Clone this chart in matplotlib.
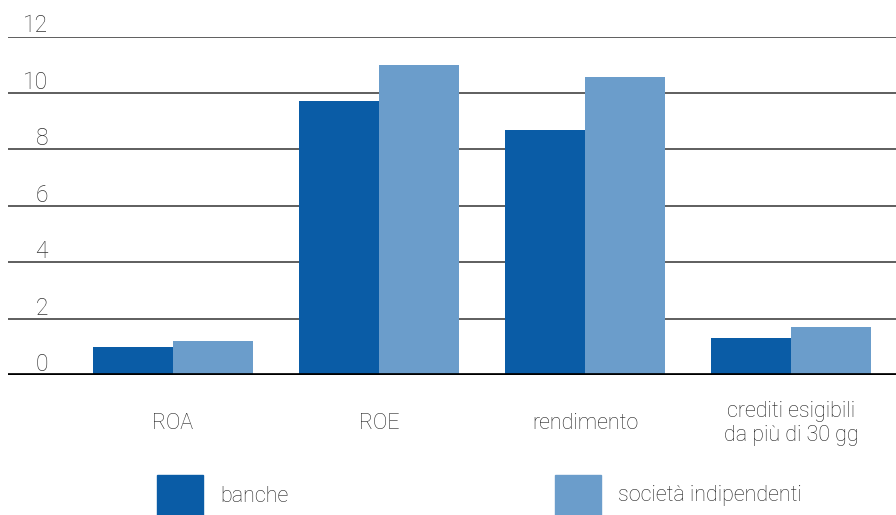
import matplotlib
matplotlib.use("Agg")
import matplotlib.pyplot as plt
import matplotlib.transforms as mtransforms
from matplotlib.patches import Rectangle
import numpy as np

categories = ["ROA", "ROE", "rendimento", "crediti esigibili\nda più di 30 gg"]
banche = [1.0, 9.7, 8.7, 1.3]
societa = [1.2, 11.0, 10.55, 1.7]
series_names = ["banche", "società indipendenti"]
yticks = [0, 2, 4, 6, 8, 10, 12]

c_banche = "#0a5ca6"
c_soc = "#6b9dcb"

plt.rcParams['font.family'] = ['Roboto', 'DejaVu Sans']
fig = plt.figure(figsize=(8.96, 5.15), dpi=100)
W, H = 896, 515
ax = fig.add_axes([8 / W, (H - 375) / H, (W - 8) / W, (375 - 36.5) / H])

x = np.arange(len(categories))
bw = 80 / 206
ax.bar(x - bw / 2, banche, width=bw, color=c_banche, zorder=3)
ax.bar(x + bw / 2, societa, width=bw, color=c_soc, zorder=3)

ax.set_xlim((8 - 173) / 206, (896 - 173) / 206)
ax.set_ylim(0, 12)

for v in yticks[1:]:
    ax.axhline(v, color="#333333", lw=1.1, zorder=2)
ax.axhline(0, color="black", lw=3.4, zorder=4)

for s in ax.spines.values():
    s.set_visible(False)
ax.set_xticks([])
ax.set_yticks([])

trans = mtransforms.blended_transform_factory(fig.transFigure, ax.transData) + \
    mtransforms.ScaledTranslation(0, 4 / 100, fig.dpi_scale_trans)
for v in yticks:
    ax.text(48 / W, v, str(v), transform=trans, ha="right", va="baseline",
            fontsize=16.5, fontweight="light", color="#333333",
            clip_on=False)

for i, c in enumerate(categories):
    ax.text(i, -1.72, c, ha="center", va="center", fontsize=15.5,
            fontweight="light", color="#222222", linespacing=1.15)

# legend
for px, name, col in [(157, series_names[0], c_banche), (555, series_names[1], c_soc)]:
    fig.patches.append(Rectangle((px / W, 0), 46 / W, 40 / H, transform=fig.transFigure,
                                 color=col))
    fig.text((px + 63) / W, (H - 496) / H, name, ha="left", va="center",
             fontsize=15.5, fontweight="light", color="#222222")

fig.savefig("out.png", dpi=100)
